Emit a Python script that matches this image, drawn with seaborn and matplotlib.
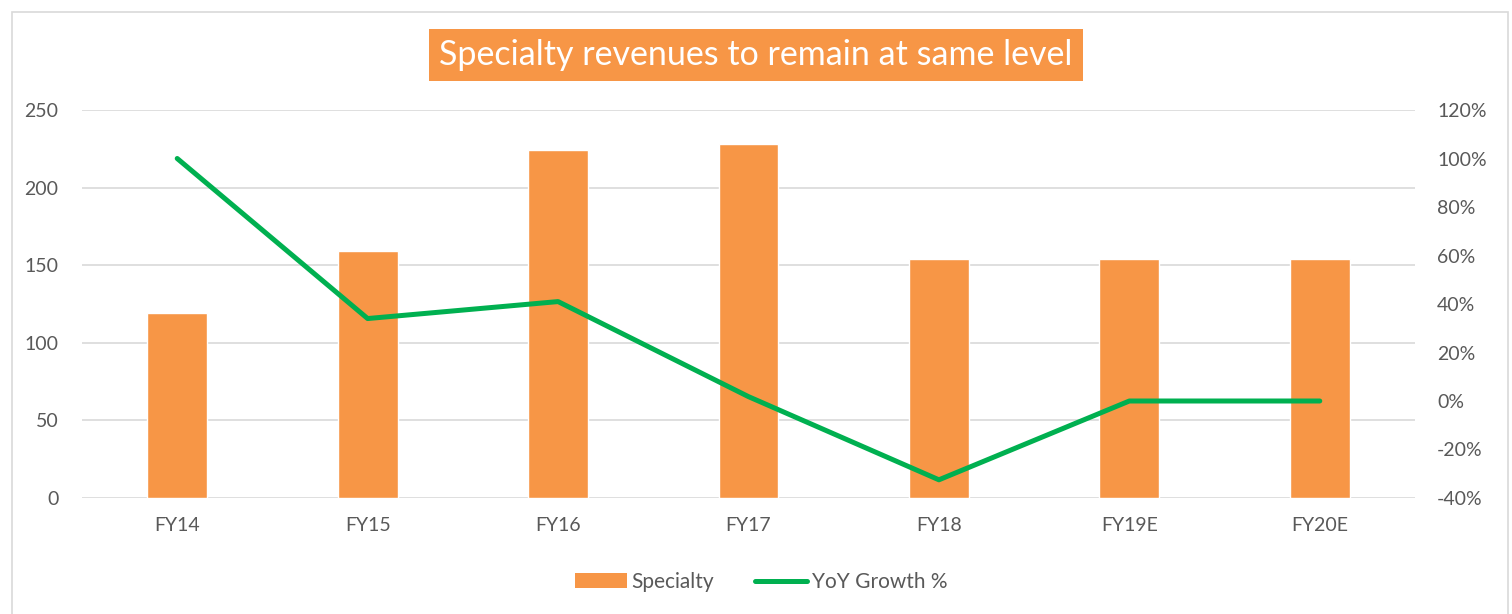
import matplotlib
matplotlib.use('Agg')
from matplotlib import pyplot as plt
from matplotlib.patches import Patch, Rectangle
from matplotlib.lines import Line2D
from matplotlib.ticker import FuncFormatter
import pandas as pd
import seaborn as sns

# data
years = ['FY14', 'FY15', 'FY16', 'FY17', 'FY18', 'FY19E', 'FY20E']
specialty = [119, 159, 224, 228, 154, 154, 154]
yoy_growth = [1.00, 0.34, 0.41, 0.018, -0.325, 0.0, 0.0]

BAR_COLOR = '#F79646'
LINE_COLOR = '#00B050'
TEXT_COLOR = '#595959'
GRID_COLOR = '#D9D9D9'

sns.set_style('white')
plt.rcParams['font.family'] = ['Lato', 'DejaVu Sans']

df = pd.DataFrame({'year': years, 'Specialty': specialty, 'YoY Growth %': yoy_growth})

fig = plt.figure(figsize=(15.12, 6.14), dpi=100)
ax = fig.add_axes([82 / 1512, 1 - 498 / 614, (1415 - 82) / 1512, (498 - 110) / 614])
ax2 = ax.twinx()

sns.barplot(data=df, x='year', y='Specialty', color=BAR_COLOR, width=0.315,
            saturation=1, ax=ax)
sns.lineplot(x=list(range(len(years))), y=df['YoY Growth %'], color=LINE_COLOR,
             linewidth=3.6, ax=ax2, solid_capstyle='round')

ax.set_ylim(0, 250)
ax.set_yticks(range(0, 251, 50))
ax.set_xlim(-0.5, len(years) - 0.5)
ax2.set_ylim(-0.4, 1.2)
ax2.set_yticks([i / 100 for i in range(-40, 121, 20)])
ax2.yaxis.set_major_formatter(FuncFormatter(lambda v, _: f'{v * 100:.0f}%'))

ax.yaxis.grid(True, color=GRID_COLOR, linewidth=1.2)
ax.set_axisbelow(True)
ax.set_xlabel('')
ax.set_ylabel('')
ax2.set_ylabel('')
for a in (ax, ax2):
    for s in a.spines.values():
        s.set_visible(False)
    a.tick_params(length=0, labelsize=14, colors=TEXT_COLOR)
ax.tick_params(axis='x', pad=14)
ax.tick_params(axis='y', pad=17)
ax2.tick_params(axis='y', pad=16)

# title in an orange box
fig.text(756 / 1512, 1 - 55 / 614, 'Specialty revenues to remain at same level',
         ha='center', va='center', fontsize=24.5, color='white',
         bbox=dict(boxstyle='square,pad=0.3', facecolor=BAR_COLOR, edgecolor='none'))

handles = [Patch(facecolor=BAR_COLOR, edgecolor='none'),
           Line2D([0], [0], color=LINE_COLOR, linewidth=3.6, solid_capstyle='round')]
fig.legend(handles, ['Specialty', 'YoY Growth %'], loc='center',
           bbox_to_anchor=(761 / 1512, 1 - 582 / 614), ncol=2, frameon=False,
           fontsize=15, labelcolor=TEXT_COLOR, handlelength=2.5, handletextpad=0.2,
           columnspacing=2.0)

# light frame around the chart
fig.patches.append(Rectangle((12 / 1512, -0.01), 1496 / 1512, 1 - 12 / 614 + 0.01,
                             transform=fig.transFigure, fill=False,
                             edgecolor=GRID_COLOR, linewidth=1.2))

fig.savefig('out.png', dpi=100)
